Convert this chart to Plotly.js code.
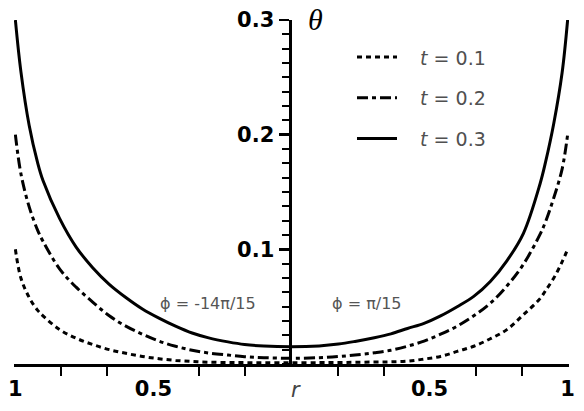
<!DOCTYPE html>
<html>
<head>
<meta charset="utf-8">
<script src="https://cdn.plot.ly/plotly-3.0.1.min.js"></script>
<style>html,body{margin:0;padding:0;background:#fff}#chart{width:584px;height:411px}</style>
</head>
<body>
<div id="chart"></div>
<script>
// radial coordinate: left half = phi -14pi/15, right half = phi pi/15 (axis shows |r|)
const r = [-1, -0.98, -0.95, -0.92, -0.9, -0.84, -0.78, -0.72, -0.66, -0.6, -0.54, -0.48, -0.42, -0.36, -0.3, -0.23, -0.17, -0.1, 0,
           0.1, 0.17, 0.23, 0.3, 0.36, 0.42, 0.48, 0.54, 0.6, 0.66, 0.72, 0.78, 0.84, 0.9, 0.92, 0.95, 0.98, 1];
const thetaT01 = [0.100, 0.075, 0.058, 0.047, 0.042, 0.030, 0.0225, 0.017, 0.0125, 0.0093, 0.0066, 0.0046, 0.0031, 0.0022, 0.0016, 0.0013, 0.0012, 0.0011, 0.0011,
                  0.0012, 0.0013, 0.0015, 0.0017, 0.0019, 0.0025, 0.0043, 0.0066, 0.011, 0.0155, 0.022, 0.030, 0.043, 0.057, 0.064, 0.075, 0.089, 0.100];
const thetaT02 = [0.200, 0.166, 0.137, 0.117, 0.107, 0.083, 0.067, 0.054, 0.042, 0.033, 0.026, 0.020, 0.0155, 0.012, 0.0096, 0.0078, 0.0064, 0.0055, 0.005,
                  0.0055, 0.0065, 0.0078, 0.0098, 0.012, 0.0155, 0.020, 0.026, 0.033, 0.042, 0.053, 0.068, 0.087, 0.113, 0.124, 0.145, 0.170, 0.200];
const thetaT03 = [0.300, 0.255, 0.208, 0.176, 0.160, 0.127, 0.102, 0.084, 0.0695, 0.058, 0.048, 0.040, 0.033, 0.027, 0.0228, 0.0193, 0.017, 0.0157, 0.0151,
                  0.0158, 0.0174, 0.0197, 0.0229, 0.0263, 0.031, 0.0355, 0.042, 0.050, 0.059, 0.072, 0.090, 0.114, 0.157, 0.176, 0.210, 0.254, 0.300];
const seriesNames = ['\u00A0\u00A0\u00A0<i>t</i> = 0.1', '\u00A0\u00A0\u00A0<i>t</i> = 0.2', '\u00A0\u00A0\u00A0<i>t</i> = 0.3'];
const xTickVals = [-1, -0.5, 0.5, 1];
const xTickText = ['1', '0.5', '0.5', '1'];
const xMinorTickVals = [-5/6, -4/6, -2/6, -1/6, 1/6, 2/6, 4/6, 5/6];
const yTickVals = [0.1, 0.2, 0.3];
const yTickText = ['0.1', '0.2', '0.3'];
const phiLabels = ['\u03D5 = -14\u03C0/15', '\u03D5 = \u03C0/15'];

const lineShape = {shape: 'spline', smoothing: 1};
const traces = [
  {x: r, y: thetaT01, name: seriesNames[0], legendgroup: 'a', mode: 'lines', type: 'scatter', hoverinfo: 'skip',
    line: Object.assign({color: '#000', width: 3, dash: '5px,4px'}, lineShape)},
  {x: r, y: thetaT02, name: seriesNames[1], legendgroup: 'b', mode: 'lines', type: 'scatter', hoverinfo: 'skip',
    line: Object.assign({color: '#000', width: 3, dash: '11px,4px,4px,4px'}, lineShape)},
  {x: r, y: thetaT03, name: seriesNames[2], legendgroup: 'c', mode: 'lines', type: 'scatter', hoverinfo: 'skip',
    line: Object.assign({color: '#000', width: 3}, lineShape)},
  // empty helper trace: the right-half subplot whose left edge carries the vertical theta axis at r = 0
  {x: [], y: [], xaxis: 'x2', yaxis: 'y2', type: 'scatter', mode: 'lines', showlegend: false, hoverinfo: 'skip'}
];

const labelFont = {family: 'DejaVu Sans', size: 21, color: '#000', weight: 'bold'};
const layout = {
  width: 584, height: 411,
  margin: {l: 14, r: 15, t: 20, b: 47, pad: 0},
  paper_bgcolor: '#fff', plot_bgcolor: 'rgba(0,0,0,0)',
  showlegend: true,
  legend: {x: 0.609, y: 0.947, xanchor: 'left', yanchor: 'top', bgcolor: 'rgba(0,0,0,0)',
    font: {family: 'DejaVu Sans', size: 19, color: '#505050'}, tracegroupgap: 13, itemwidth: 40},
  xaxis: {domain: [0, 1], anchor: 'y', range: [-1.005, 1.005], showgrid: false, zeroline: false, showline: true, linewidth: 3, linecolor: '#000',
    tickmode: 'array', tickvals: xTickVals, ticktext: xTickText, ticks: 'outside', ticklen: 0, tickwidth: 0,
    tickfont: labelFont, ticklabelstandoff: 4,
    minor: {tickmode: 'array', tickvals: xMinorTickVals, ticks: 'outside', ticklen: 9, tickwidth: 2, tickcolor: '#000', showgrid: false},
    fixedrange: true},
  yaxis: {domain: [0, 1], anchor: 'x', range: [0, 0.3], visible: false, fixedrange: true},
  xaxis2: {domain: [0.5, 1], anchor: 'y2', range: [0, 1.005], visible: false, fixedrange: true},
  yaxis2: {domain: [0, 1], anchor: 'x2', side: 'left', range: [0, 0.3], showgrid: false, zeroline: false, showline: true,
    linewidth: 3, linecolor: '#000',
    tickmode: 'array', tickvals: yTickVals, ticktext: yTickText, ticks: 'outside', ticklen: 10, tickwidth: 2.5, tickcolor: '#000',
    tickfont: labelFont,
    minor: {tickmode: 'linear', tick0: 0, dtick: 0.0125, ticks: 'outside', ticklen: 7, tickwidth: 2, tickcolor: '#000', showgrid: false},
    fixedrange: true},
  annotations: [
    {x: 0, y: 0.3, xref: 'x', yref: 'y', text: '<i>\u03B8</i>', showarrow: false, xanchor: 'left', yanchor: 'middle',
      xshift: 14, yshift: 1, font: {family: 'Liberation Serif, DejaVu Serif', size: 30, color: '#000'}},
    {x: 0, y: 0, xref: 'x', yref: 'y', text: '<i>r</i>', showarrow: false, xanchor: 'center', yanchor: 'top',
      xshift: 4, yshift: -12, font: {family: 'DejaVu Sans', size: 21, color: '#444'}},
    {x: -0.304, y: 0.053, xref: 'x', yref: 'y', text: phiLabels[0], showarrow: false,
      font: {family: 'DejaVu Sans', size: 16, color: '#555'}},
    {x: 0.275, y: 0.053, xref: 'x', yref: 'y', text: phiLabels[1], showarrow: false,
      font: {family: 'DejaVu Sans', size: 16, color: '#555'}}
  ]
};

Plotly.newPlot('chart', traces, layout, {staticPlot: true, displayModeBar: false});
</script>
</body>
</html>
